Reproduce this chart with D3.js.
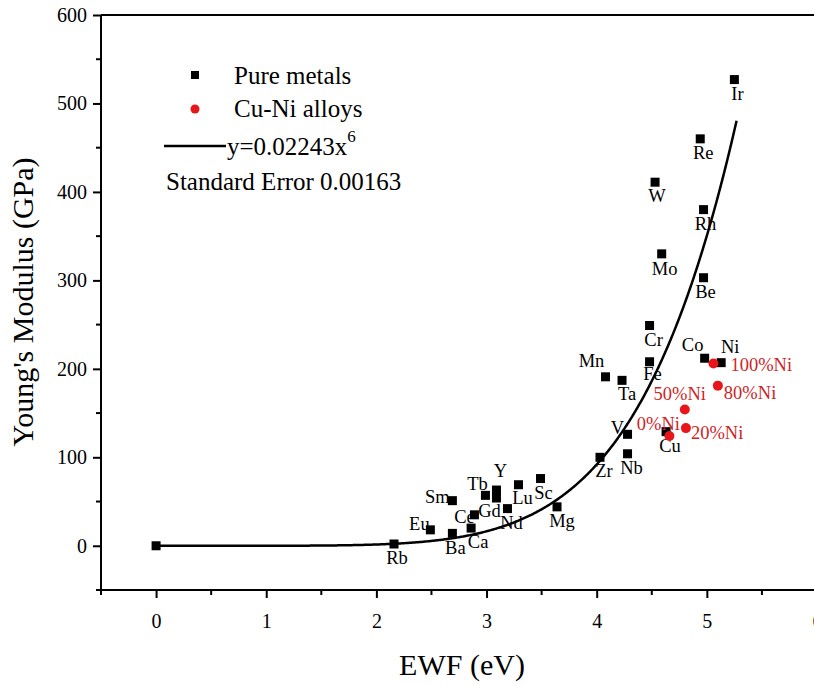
<!DOCTYPE html>
<html>
<head>
<meta charset="utf-8">
<script src="https://cdn.jsdelivr.net/npm/d3@7"></script>
<style>
  body { margin: 0; background: #fff; }
  svg { display: block; }
</style>
</head>
<body>
<svg id="chart" width="814" height="685" font-family="Liberation Serif, Times New Roman, serif"></svg>
<script>
// Pure metals: electron work function (eV) vs Young's modulus (GPa)
const metalNames = ["", "Rb", "Eu", "Ba", "Ca", "Sm", "Ce", "Tb", "Y", "Gd", "Nd", "Lu", "Sc", "Mg",
  "Zr", "V", "Nb", "Mn", "Ta", "Fe", "Cr", "Cu", "Co", "Ni", "Mo", "W", "Be", "Rh", "Re", "Ir"];
const metalEWF = [0, 2.16, 2.49, 2.69, 2.86, 2.69, 2.89, 2.99, 3.09, 3.09, 3.19, 3.29, 3.49, 3.64,
  4.03, 4.28, 4.28, 4.08, 4.23, 4.48, 4.48, 4.63, 4.98, 5.13, 4.59, 4.53, 4.97, 4.97, 4.94, 5.25];
const metalModulus = [0, 2, 18, 14, 20, 51, 35, 57, 63, 54, 42, 69, 76, 44,
  100, 126, 104, 191, 187, 208, 249, 129, 212, 207, 330, 411, 303, 380, 460, 527];

// Cu-Ni alloys
const alloyNames = ["0%Ni", "20%Ni", "50%Ni", "80%Ni", "100%Ni"];
const alloyEWF = [4.66, 4.81, 4.80, 5.10, 5.06];
const alloyModulus = [124, 133, 154, 181, 206];

// Fitted curve y = a·x^6
const fitCoef = 0.02243;
const fitRange = [0, 5.27];

const xTicks = [0, 1, 2, 3, 4, 5, 6];
const yTicks = [0, 100, 200, 300, 400, 500, 600];

// Label placement around each marker: [dx, dy, anchor]
const metalLabelPos = {
  Rb: [3, 14, "middle"], Eu: [-11, -6, "middle"], Ba: [3, 15, "middle"], Ca: [7, 14, "middle"],
  Sm: [-15, -4, "middle"], Ce: [-10, 2, "middle"], Tb: [-8, -11, "middle"], Y: [4, -19, "middle"],
  Gd: [-7, 13, "middle"], Nd: [4, 14, "middle"], Lu: [4, 13, "middle"], Sc: [3, 14, "middle"],
  Mg: [5, 14, "middle"], Zr: [4, 14, "middle"], V: [-10, -6, "middle"], Nb: [4, 14, "middle"],
  Mn: [-14, -16, "middle"], Ta: [5, 14, "middle"], Fe: [3, 12, "middle"], Cr: [4, 14, "middle"],
  Cu: [4, 14, "middle"], Co: [-12, -13, "middle"], Ni: [9, -16, "middle"], Mo: [3, 15, "middle"],
  W: [2, 14, "middle"], Be: [2, 14, "middle"], Rh: [2, 14, "middle"], Re: [3, 14, "middle"],
  Ir: [3, 14, "middle"]
};
const alloyLabelPos = {
  "0%Ni": [-11, -12, "middle"], "20%Ni": [5, 5, "start"], "50%Ni": [-5, -16, "middle"],
  "80%Ni": [6, 7, "start"], "100%Ni": [17, 1, "start"]
};

const svg = d3.select("#chart");
const margin = { left: 101, top: 15, right: -3, bottom: 95 };
const W = 814, H = 685;

const x = d3.scaleLinear().domain([-0.5, 6]).range([margin.left, W - margin.right]);
const y = d3.scaleLinear().domain([-50, 600]).range([H - margin.bottom, margin.top]);

const alloyColor = "#e8161b";
const labelRed = "#cc2529";
const serif = "Liberation Serif, Times New Roman, serif";

// Frame (top edge)
svg.append("line")
  .attr("x1", margin.left).attr("x2", W - margin.right)
  .attr("y1", margin.top).attr("y2", margin.top)
  .attr("stroke", "#000").attr("stroke-width", 2);

// X axis with major and minor ticks
const xAxisG = svg.append("g").attr("transform", `translate(0,${H - margin.bottom})`);
xAxisG.call(d3.axisBottom(x).tickValues(xTicks).tickFormat(d3.format("d")).tickSize(8).tickSizeOuter(0));
xAxisG.append("g").selectAll("line")
  .data(d3.range(-0.5, 6.01, 1))
  .join("line")
  .attr("x1", d => x(d)).attr("x2", d => x(d))
  .attr("y1", 0).attr("y2", 5)
  .attr("stroke", "#000").attr("stroke-width", 2);

// Y axis with major and minor ticks
const yAxisG = svg.append("g").attr("transform", `translate(${margin.left},0)`);
yAxisG.call(d3.axisLeft(y).tickValues(yTicks).tickFormat(d3.format("d")).tickSize(8).tickSizeOuter(0));
yAxisG.append("g").selectAll("line")
  .data(d3.range(-50, 551, 100))
  .join("line")
  .attr("x1", 0).attr("x2", -5)
  .attr("y1", d => y(d)).attr("y2", d => y(d))
  .attr("stroke", "#000").attr("stroke-width", 2);

[xAxisG, yAxisG].forEach(g => {
  g.attr("font-family", serif).attr("font-size", 20);
  g.select(".domain").attr("stroke-width", 2);
  g.selectAll(".tick line").attr("stroke-width", 2);
  g.selectAll(".tick text").attr("fill", "#000");
});
xAxisG.selectAll(".tick text").attr("dy", "1.35em");
yAxisG.selectAll(".tick text").attr("dx", "-0.15em");
// extend the axis lines so they meet at the corner
xAxisG.select(".domain").attr("d", `M${margin.left - 1},0H${W - margin.right}`);
yAxisG.select(".domain").attr("d", `M0,${H - margin.bottom + 1}V${margin.top}`);

// Axis titles
svg.append("text")
  .attr("x", 462).attr("y", 675)
  .attr("text-anchor", "middle")
  .attr("font-size", 30)
  .text("EWF (eV)");
svg.append("text")
  .attr("transform", "translate(33,302) rotate(-90)")
  .attr("text-anchor", "middle")
  .attr("font-size", 30)
  .text("Young's Modulus (GPa)");

// Fitted curve
const fitX = d3.range(fitRange[0], fitRange[1] + 1e-9, 0.01);
svg.append("path")
  .datum(fitX)
  .attr("fill", "none")
  .attr("stroke", "#000")
  .attr("stroke-width", 2.5)
  .attr("d", d3.line().x(d => x(d)).y(d => y(fitCoef * Math.pow(d, 6))));

// Pure metal markers
const metals = metalNames.map((n, i) => ({ name: n, ewf: metalEWF[i], e: metalModulus[i] }));
const sq = 9;
svg.append("g").selectAll("rect")
  .data(metals)
  .join("rect")
  .attr("x", d => x(d.ewf) - sq / 2)
  .attr("y", d => y(d.e) - sq / 2)
  .attr("width", sq).attr("height", sq)
  .attr("fill", "#000");

svg.append("g").selectAll("text")
  .data(metals.filter(d => d.name))
  .join("text")
  .attr("x", d => x(d.ewf) + metalLabelPos[d.name][0])
  .attr("y", d => y(d.e) + metalLabelPos[d.name][1])
  .attr("text-anchor", d => metalLabelPos[d.name][2])
  .attr("dominant-baseline", "central")
  .attr("font-size", 18.5)
  .attr("fill", "#000")
  .text(d => d.name);

// Cu-Ni alloy markers
const alloys = alloyNames.map((n, i) => ({ name: n, ewf: alloyEWF[i], e: alloyModulus[i] }));
svg.append("g").selectAll("circle")
  .data(alloys)
  .join("circle")
  .attr("cx", d => x(d.ewf))
  .attr("cy", d => y(d.e))
  .attr("r", 5)
  .attr("fill", alloyColor);

svg.append("g").selectAll("text")
  .data(alloys)
  .join("text")
  .attr("x", d => x(d.ewf) + alloyLabelPos[d.name][0])
  .attr("y", d => y(d.e) + alloyLabelPos[d.name][1])
  .attr("text-anchor", d => alloyLabelPos[d.name][2])
  .attr("dominant-baseline", "central")
  .attr("font-size", 18.5)
  .attr("fill", labelRed)
  .text(d => d.name);

// Legend
const legend = svg.append("g").attr("font-size", 25);
legend.append("rect").attr("x", 191).attr("y", 71).attr("width", 8).attr("height", 8).attr("fill", "#000");
legend.append("text").attr("x", 234).attr("y", 75).attr("dominant-baseline", "central").text("Pure metals");
legend.append("circle").attr("cx", 195).attr("cy", 109).attr("r", 4.5).attr("fill", alloyColor);
legend.append("text").attr("x", 234).attr("y", 108).attr("dominant-baseline", "central").text("Cu-Ni alloys");
legend.append("line").attr("x1", 164).attr("x2", 226).attr("y1", 146).attr("y2", 146)
  .attr("stroke", "#000").attr("stroke-width", 2.5);
const eq = legend.append("text").attr("x", 227).attr("y", 146).attr("dominant-baseline", "central");
eq.append("tspan").text(`y=${fitCoef}x`);
eq.append("tspan").attr("font-size", 17).attr("dy", -10).text("6");
legend.append("text").attr("x", 166).attr("y", 181).attr("dominant-baseline", "central").text("Standard Error 0.00163");
</script>
</body>
</html>
